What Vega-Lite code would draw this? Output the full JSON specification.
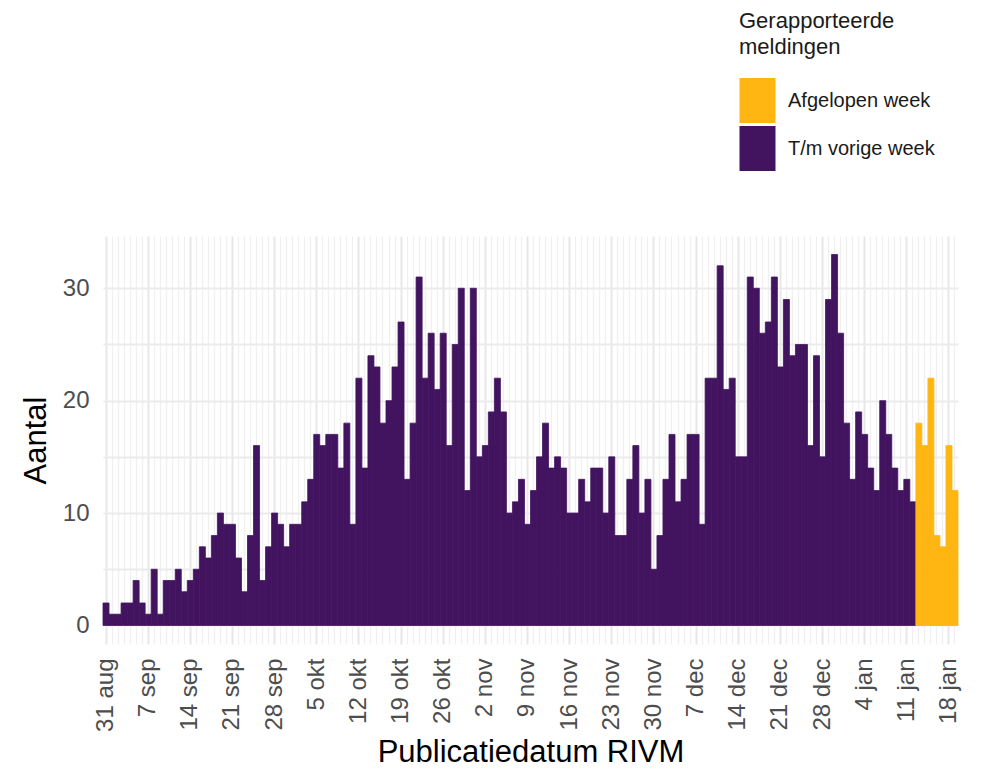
{
  "$schema": "https://vega.github.io/schema/vega-lite/v6.json",
  "width": 855,
  "height": 408,
  "autosize": {"type": "none"},
  "padding": {"left": 103, "top": 236, "right": 26, "bottom": 126},
  "background": "white",
  "config": {
    "font": "Liberation Sans",
    "view": {"stroke": null},
    "axis": {"domain": false, "ticks": false, "labelFont": "Liberation Sans", "titleFont": "Liberation Sans", "titleFontWeight": "normal"}
  },
  "data": {
    "values": [
      {"datum": "2020-08-31", "aantal": 2, "categorie": "T/m vorige week"},
      {"datum": "2020-09-01", "aantal": 1, "categorie": "T/m vorige week"},
      {"datum": "2020-09-02", "aantal": 1, "categorie": "T/m vorige week"},
      {"datum": "2020-09-03", "aantal": 2, "categorie": "T/m vorige week"},
      {"datum": "2020-09-04", "aantal": 2, "categorie": "T/m vorige week"},
      {"datum": "2020-09-05", "aantal": 4, "categorie": "T/m vorige week"},
      {"datum": "2020-09-06", "aantal": 2, "categorie": "T/m vorige week"},
      {"datum": "2020-09-07", "aantal": 1, "categorie": "T/m vorige week"},
      {"datum": "2020-09-08", "aantal": 5, "categorie": "T/m vorige week"},
      {"datum": "2020-09-09", "aantal": 1, "categorie": "T/m vorige week"},
      {"datum": "2020-09-10", "aantal": 4, "categorie": "T/m vorige week"},
      {"datum": "2020-09-11", "aantal": 4, "categorie": "T/m vorige week"},
      {"datum": "2020-09-12", "aantal": 5, "categorie": "T/m vorige week"},
      {"datum": "2020-09-13", "aantal": 3, "categorie": "T/m vorige week"},
      {"datum": "2020-09-14", "aantal": 4, "categorie": "T/m vorige week"},
      {"datum": "2020-09-15", "aantal": 5, "categorie": "T/m vorige week"},
      {"datum": "2020-09-16", "aantal": 7, "categorie": "T/m vorige week"},
      {"datum": "2020-09-17", "aantal": 6, "categorie": "T/m vorige week"},
      {"datum": "2020-09-18", "aantal": 8, "categorie": "T/m vorige week"},
      {"datum": "2020-09-19", "aantal": 10, "categorie": "T/m vorige week"},
      {"datum": "2020-09-20", "aantal": 9, "categorie": "T/m vorige week"},
      {"datum": "2020-09-21", "aantal": 9, "categorie": "T/m vorige week"},
      {"datum": "2020-09-22", "aantal": 6, "categorie": "T/m vorige week"},
      {"datum": "2020-09-23", "aantal": 3, "categorie": "T/m vorige week"},
      {"datum": "2020-09-24", "aantal": 8, "categorie": "T/m vorige week"},
      {"datum": "2020-09-25", "aantal": 16, "categorie": "T/m vorige week"},
      {"datum": "2020-09-26", "aantal": 4, "categorie": "T/m vorige week"},
      {"datum": "2020-09-27", "aantal": 7, "categorie": "T/m vorige week"},
      {"datum": "2020-09-28", "aantal": 10, "categorie": "T/m vorige week"},
      {"datum": "2020-09-29", "aantal": 9, "categorie": "T/m vorige week"},
      {"datum": "2020-09-30", "aantal": 7, "categorie": "T/m vorige week"},
      {"datum": "2020-10-01", "aantal": 9, "categorie": "T/m vorige week"},
      {"datum": "2020-10-02", "aantal": 9, "categorie": "T/m vorige week"},
      {"datum": "2020-10-03", "aantal": 11, "categorie": "T/m vorige week"},
      {"datum": "2020-10-04", "aantal": 13, "categorie": "T/m vorige week"},
      {"datum": "2020-10-05", "aantal": 17, "categorie": "T/m vorige week"},
      {"datum": "2020-10-06", "aantal": 16, "categorie": "T/m vorige week"},
      {"datum": "2020-10-07", "aantal": 17, "categorie": "T/m vorige week"},
      {"datum": "2020-10-08", "aantal": 17, "categorie": "T/m vorige week"},
      {"datum": "2020-10-09", "aantal": 14, "categorie": "T/m vorige week"},
      {"datum": "2020-10-10", "aantal": 18, "categorie": "T/m vorige week"},
      {"datum": "2020-10-11", "aantal": 9, "categorie": "T/m vorige week"},
      {"datum": "2020-10-12", "aantal": 22, "categorie": "T/m vorige week"},
      {"datum": "2020-10-13", "aantal": 14, "categorie": "T/m vorige week"},
      {"datum": "2020-10-14", "aantal": 24, "categorie": "T/m vorige week"},
      {"datum": "2020-10-15", "aantal": 23, "categorie": "T/m vorige week"},
      {"datum": "2020-10-16", "aantal": 18, "categorie": "T/m vorige week"},
      {"datum": "2020-10-17", "aantal": 20, "categorie": "T/m vorige week"},
      {"datum": "2020-10-18", "aantal": 23, "categorie": "T/m vorige week"},
      {"datum": "2020-10-19", "aantal": 27, "categorie": "T/m vorige week"},
      {"datum": "2020-10-20", "aantal": 13, "categorie": "T/m vorige week"},
      {"datum": "2020-10-21", "aantal": 18, "categorie": "T/m vorige week"},
      {"datum": "2020-10-22", "aantal": 31, "categorie": "T/m vorige week"},
      {"datum": "2020-10-23", "aantal": 22, "categorie": "T/m vorige week"},
      {"datum": "2020-10-24", "aantal": 26, "categorie": "T/m vorige week"},
      {"datum": "2020-10-25", "aantal": 21, "categorie": "T/m vorige week"},
      {"datum": "2020-10-26", "aantal": 26, "categorie": "T/m vorige week"},
      {"datum": "2020-10-27", "aantal": 16, "categorie": "T/m vorige week"},
      {"datum": "2020-10-28", "aantal": 25, "categorie": "T/m vorige week"},
      {"datum": "2020-10-29", "aantal": 30, "categorie": "T/m vorige week"},
      {"datum": "2020-10-30", "aantal": 12, "categorie": "T/m vorige week"},
      {"datum": "2020-10-31", "aantal": 30, "categorie": "T/m vorige week"},
      {"datum": "2020-11-01", "aantal": 15, "categorie": "T/m vorige week"},
      {"datum": "2020-11-02", "aantal": 16, "categorie": "T/m vorige week"},
      {"datum": "2020-11-03", "aantal": 19, "categorie": "T/m vorige week"},
      {"datum": "2020-11-04", "aantal": 22, "categorie": "T/m vorige week"},
      {"datum": "2020-11-05", "aantal": 19, "categorie": "T/m vorige week"},
      {"datum": "2020-11-06", "aantal": 10, "categorie": "T/m vorige week"},
      {"datum": "2020-11-07", "aantal": 11, "categorie": "T/m vorige week"},
      {"datum": "2020-11-08", "aantal": 13, "categorie": "T/m vorige week"},
      {"datum": "2020-11-09", "aantal": 9, "categorie": "T/m vorige week"},
      {"datum": "2020-11-10", "aantal": 12, "categorie": "T/m vorige week"},
      {"datum": "2020-11-11", "aantal": 15, "categorie": "T/m vorige week"},
      {"datum": "2020-11-12", "aantal": 18, "categorie": "T/m vorige week"},
      {"datum": "2020-11-13", "aantal": 14, "categorie": "T/m vorige week"},
      {"datum": "2020-11-14", "aantal": 15, "categorie": "T/m vorige week"},
      {"datum": "2020-11-15", "aantal": 14, "categorie": "T/m vorige week"},
      {"datum": "2020-11-16", "aantal": 10, "categorie": "T/m vorige week"},
      {"datum": "2020-11-17", "aantal": 10, "categorie": "T/m vorige week"},
      {"datum": "2020-11-18", "aantal": 13, "categorie": "T/m vorige week"},
      {"datum": "2020-11-19", "aantal": 11, "categorie": "T/m vorige week"},
      {"datum": "2020-11-20", "aantal": 14, "categorie": "T/m vorige week"},
      {"datum": "2020-11-21", "aantal": 14, "categorie": "T/m vorige week"},
      {"datum": "2020-11-22", "aantal": 10, "categorie": "T/m vorige week"},
      {"datum": "2020-11-23", "aantal": 15, "categorie": "T/m vorige week"},
      {"datum": "2020-11-24", "aantal": 8, "categorie": "T/m vorige week"},
      {"datum": "2020-11-25", "aantal": 8, "categorie": "T/m vorige week"},
      {"datum": "2020-11-26", "aantal": 13, "categorie": "T/m vorige week"},
      {"datum": "2020-11-27", "aantal": 16, "categorie": "T/m vorige week"},
      {"datum": "2020-11-28", "aantal": 10, "categorie": "T/m vorige week"},
      {"datum": "2020-11-29", "aantal": 13, "categorie": "T/m vorige week"},
      {"datum": "2020-11-30", "aantal": 5, "categorie": "T/m vorige week"},
      {"datum": "2020-12-01", "aantal": 8, "categorie": "T/m vorige week"},
      {"datum": "2020-12-02", "aantal": 13, "categorie": "T/m vorige week"},
      {"datum": "2020-12-03", "aantal": 17, "categorie": "T/m vorige week"},
      {"datum": "2020-12-04", "aantal": 11, "categorie": "T/m vorige week"},
      {"datum": "2020-12-05", "aantal": 13, "categorie": "T/m vorige week"},
      {"datum": "2020-12-06", "aantal": 17, "categorie": "T/m vorige week"},
      {"datum": "2020-12-07", "aantal": 17, "categorie": "T/m vorige week"},
      {"datum": "2020-12-08", "aantal": 9, "categorie": "T/m vorige week"},
      {"datum": "2020-12-09", "aantal": 22, "categorie": "T/m vorige week"},
      {"datum": "2020-12-10", "aantal": 22, "categorie": "T/m vorige week"},
      {"datum": "2020-12-11", "aantal": 32, "categorie": "T/m vorige week"},
      {"datum": "2020-12-12", "aantal": 21, "categorie": "T/m vorige week"},
      {"datum": "2020-12-13", "aantal": 22, "categorie": "T/m vorige week"},
      {"datum": "2020-12-14", "aantal": 15, "categorie": "T/m vorige week"},
      {"datum": "2020-12-15", "aantal": 15, "categorie": "T/m vorige week"},
      {"datum": "2020-12-16", "aantal": 31, "categorie": "T/m vorige week"},
      {"datum": "2020-12-17", "aantal": 30, "categorie": "T/m vorige week"},
      {"datum": "2020-12-18", "aantal": 26, "categorie": "T/m vorige week"},
      {"datum": "2020-12-19", "aantal": 27, "categorie": "T/m vorige week"},
      {"datum": "2020-12-20", "aantal": 31, "categorie": "T/m vorige week"},
      {"datum": "2020-12-21", "aantal": 23, "categorie": "T/m vorige week"},
      {"datum": "2020-12-22", "aantal": 29, "categorie": "T/m vorige week"},
      {"datum": "2020-12-23", "aantal": 24, "categorie": "T/m vorige week"},
      {"datum": "2020-12-24", "aantal": 25, "categorie": "T/m vorige week"},
      {"datum": "2020-12-25", "aantal": 25, "categorie": "T/m vorige week"},
      {"datum": "2020-12-26", "aantal": 16, "categorie": "T/m vorige week"},
      {"datum": "2020-12-27", "aantal": 24, "categorie": "T/m vorige week"},
      {"datum": "2020-12-28", "aantal": 15, "categorie": "T/m vorige week"},
      {"datum": "2020-12-29", "aantal": 29, "categorie": "T/m vorige week"},
      {"datum": "2020-12-30", "aantal": 33, "categorie": "T/m vorige week"},
      {"datum": "2020-12-31", "aantal": 26, "categorie": "T/m vorige week"},
      {"datum": "2021-01-01", "aantal": 18, "categorie": "T/m vorige week"},
      {"datum": "2021-01-02", "aantal": 13, "categorie": "T/m vorige week"},
      {"datum": "2021-01-03", "aantal": 19, "categorie": "T/m vorige week"},
      {"datum": "2021-01-04", "aantal": 17, "categorie": "T/m vorige week"},
      {"datum": "2021-01-05", "aantal": 14, "categorie": "T/m vorige week"},
      {"datum": "2021-01-06", "aantal": 12, "categorie": "T/m vorige week"},
      {"datum": "2021-01-07", "aantal": 20, "categorie": "T/m vorige week"},
      {"datum": "2021-01-08", "aantal": 17, "categorie": "T/m vorige week"},
      {"datum": "2021-01-09", "aantal": 14, "categorie": "T/m vorige week"},
      {"datum": "2021-01-10", "aantal": 12, "categorie": "T/m vorige week"},
      {"datum": "2021-01-11", "aantal": 13, "categorie": "T/m vorige week"},
      {"datum": "2021-01-12", "aantal": 11, "categorie": "T/m vorige week"},
      {"datum": "2021-01-13", "aantal": 18, "categorie": "Afgelopen week"},
      {"datum": "2021-01-14", "aantal": 16, "categorie": "Afgelopen week"},
      {"datum": "2021-01-15", "aantal": 22, "categorie": "Afgelopen week"},
      {"datum": "2021-01-16", "aantal": 8, "categorie": "Afgelopen week"},
      {"datum": "2021-01-17", "aantal": 7, "categorie": "Afgelopen week"},
      {"datum": "2021-01-18", "aantal": 16, "categorie": "Afgelopen week"},
      {"datum": "2021-01-19", "aantal": 12, "categorie": "Afgelopen week"}
    ]
  },
  "mark": {"type": "bar", "strokeWidth": 0.8},
  "encoding": {
    "x": {
      "field": "datum",
      "type": "ordinal",
      "sort": null,
      "scale": {"paddingInner": 0, "paddingOuter": 0},
      "axis": {
        "title": "Publicatiedatum RIVM",
        "titleFontSize": 31,
        "titleColor": "#000000",
        "titlePadding": 6,
        "labelAngle": 270,
        "labelFontSize": 24,
        "labelColor": "#4d4d4d",
        "labelPadding": 14,
        "labelOverlap": false,
        "labelBound": false,
        "labelExpr": "utcday(toDate(datum.value)) == 1 ? utcdate(toDate(datum.value)) + ' ' + ['jan','feb','mrt','apr','mei','jun','jul','aug','sep','okt','nov','dec'][utcmonth(toDate(datum.value))] : ''",
        "grid": true,
        "gridColor": {"condition": {"test": "utcday(toDate(datum.value)) == 1", "value": "#e8e8e8"}, "value": "#f0f0f0"},
        "gridWidth": {"condition": {"test": "utcday(toDate(datum.value)) == 1", "value": 2}, "value": 1.3}
      }
    },
    "y": {
      "field": "aantal",
      "type": "quantitative",
      "scale": {"domain": [-1.65, 34.65], "nice": false, "zero": false},
      "axis": {
        "title": "Aantal",
        "titleFontSize": 31,
        "titleColor": "#000000",
        "titlePadding": 10,
        "values": [0, 5, 10, 15, 20, 25, 30],
        "labelExpr": "datum.value % 10 == 0 ? datum.label : ''",
        "labelFontSize": 24,
        "labelColor": "#4d4d4d",
        "labelPadding": 14,
        "grid": true,
        "gridColor": "#ebebeb",
        "gridWidth": 2
      }
    },
    "stroke": {
      "field": "categorie",
      "type": "nominal",
      "scale": {"domain": ["Afgelopen week", "T/m vorige week"], "range": ["#FFB612", "#42145F"]},
      "legend": null
    },
    "color": {
      "field": "categorie",
      "type": "nominal",
      "scale": {"domain": ["Afgelopen week", "T/m vorige week"], "range": ["#FFB612", "#42145F"]},
      "legend": {
        "title": ["Gerapporteerde", "meldingen"],
        "orient": "none",
        "legendX": 636,
        "legendY": -225,
        "padding": 0,
        "titleFontSize": 22,
        "titleFontWeight": "normal",
        "titleColor": "#1a1a1a",
        "titleLineHeight": 26,
        "titlePadding": 19,
        "labelFontSize": 20,
        "labelColor": "#1a1a1a",
        "labelOffset": 8,
        "symbolOffset": -4,
        "symbolType": "M-0.8,-1H0.8V1H-0.8Z",
        "symbolSize": 2025,
        "symbolStrokeWidth": 0,
        "symbolOpacity": 1,
        "rowPadding": 3
      }
    }
  }
}
